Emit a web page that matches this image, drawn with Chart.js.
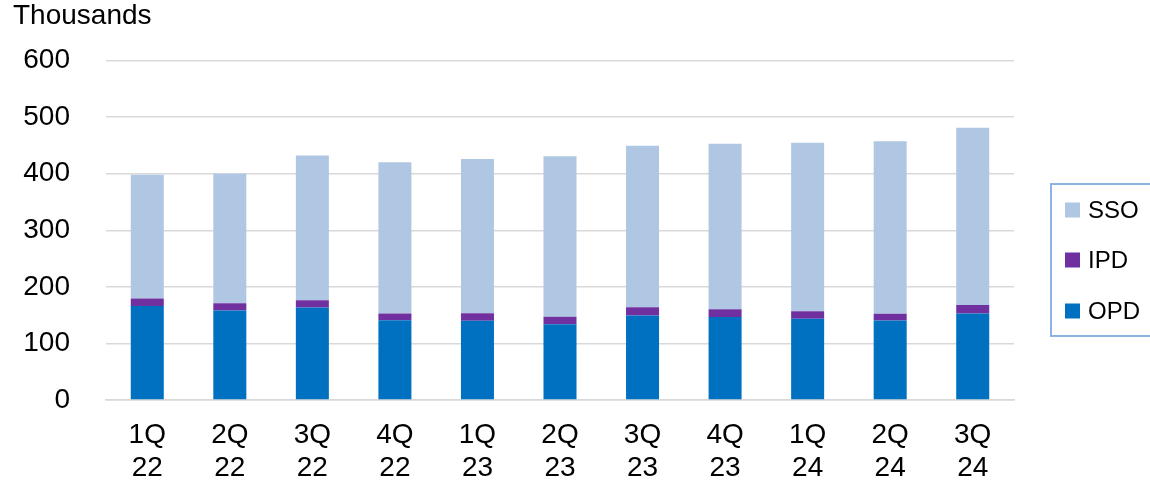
<!DOCTYPE html>
<html lang="en">
<head>
    <meta charset="UTF-8">
    <title>Thousands by quarter</title>
    <script src="https://cdn.jsdelivr.net/npm/chart.js"></script>
    <style>
        body { margin: 0; background: #ffffff; }
        #wrap { width: 1150px; height: 485px; }
    </style>
</head>
<body>
<div id="wrap"><canvas id="chart"></canvas></div>
<script>
    // values, in thousands
    const quarters = [['1Q', '22'], ['2Q', '22'], ['3Q', '22'], ['4Q', '22'], ['1Q', '23'], ['2Q', '23'],
                      ['3Q', '23'], ['4Q', '23'], ['1Q', '24'], ['2Q', '24'], ['3Q', '24']];
    const opd = [166, 158, 163.5, 141, 140, 134, 149.5, 146.5, 143.5, 140.5, 153];
    const ipd = [13.5, 13, 13, 12, 13.5, 13, 14.5, 14, 13.5, 12, 15];
    const sso = [218.5, 229, 255.5, 267, 272.5, 284, 285.5, 292.5, 297.5, 305, 313];
    const yTicks = [0, 100, 200, 300, 400, 500, 600];

    const FONT = '"Liberation Sans", Arial, sans-serif';

    // legend drawn by hand so it sits in a bordered box to the right
    const boxLegend = {
        id: 'boxLegend',
        afterDraw(chart) {
            const ctx = chart.ctx;
            ctx.save();
            ctx.strokeStyle = '#8db3e2';
            ctx.lineWidth = 2;
            ctx.strokeRect(1051, 184, 110, 152);
            const items = chart.data.datasets.slice().reverse();
            const rows = [210, 260, 311];
            ctx.font = '24px ' + FONT;
            ctx.textBaseline = 'middle';
            items.forEach(function(ds, i) {
                ctx.fillStyle = ds.backgroundColor;
                ctx.fillRect(1065, rows[i] - 7.5, 15, 15);
                ctx.fillStyle = '#000000';
                ctx.fillText(ds.label, 1088, rows[i] + 1);
            });
            ctx.restore();
        }
    };

    new Chart(document.getElementById('chart'), {
        type: 'bar',
        data: {
            labels: quarters,
            datasets: [
                { label: 'OPD', data: opd, backgroundColor: '#0070c0' },
                { label: 'IPD', data: ipd, backgroundColor: '#7030a0' },
                { label: 'SSO', data: sso, backgroundColor: '#b0c7e3' }
            ]
        },
        options: {
            responsive: true,
            maintainAspectRatio: false,
            animation: false,
            datasets: {
                bar: {
                    barPercentage: 0.4,
                    categoryPercentage: 1,
                    borderWidth: 0
                }
            },
            layout: { padding: { left: 13, right: 136, top: 0, bottom: 0 } },
            plugins: {
                legend: { display: false },
                tooltip: { enabled: false },
                title: {
                    display: true,
                    text: 'Thousands',
                    align: 'start',
                    color: '#000000',
                    font: { family: FONT, size: 28, weight: 'normal', lineHeight: 1.0 },
                    padding: { top: 2, bottom: 30.5 }
                }
            },
            scales: {
                x: {
                    stacked: true,
                    afterFit: function(scale) { scale.height = 85; },
                    grid: { display: false, drawTicks: false },
                    border: { display: true, color: '#d9d9d9', width: 1.5 },
                    ticks: {
                        color: '#000000',
                        padding: 18,
                        maxRotation: 0,
                        font: { family: FONT, size: 28, lineHeight: 1.2 }
                    }
                },
                y: {
                    stacked: true,
                    min: 0,
                    max: 600,
                    afterBuildTicks: function(scale) {
                        scale.ticks = yTicks.map(function(v) { return { value: v }; });
                    },
                    afterFit: function(scale) { scale.width = 93; },
                    grid: { color: '#d9d9d9', lineWidth: 1.5, drawTicks: false },
                    border: { display: false },
                    ticks: {
                        color: '#000000',
                        padding: 36,
                        font: { family: FONT, size: 28 }
                    }
                }
            }
        },
        plugins: [boxLegend]
    });
</script>
</body>
</html>
